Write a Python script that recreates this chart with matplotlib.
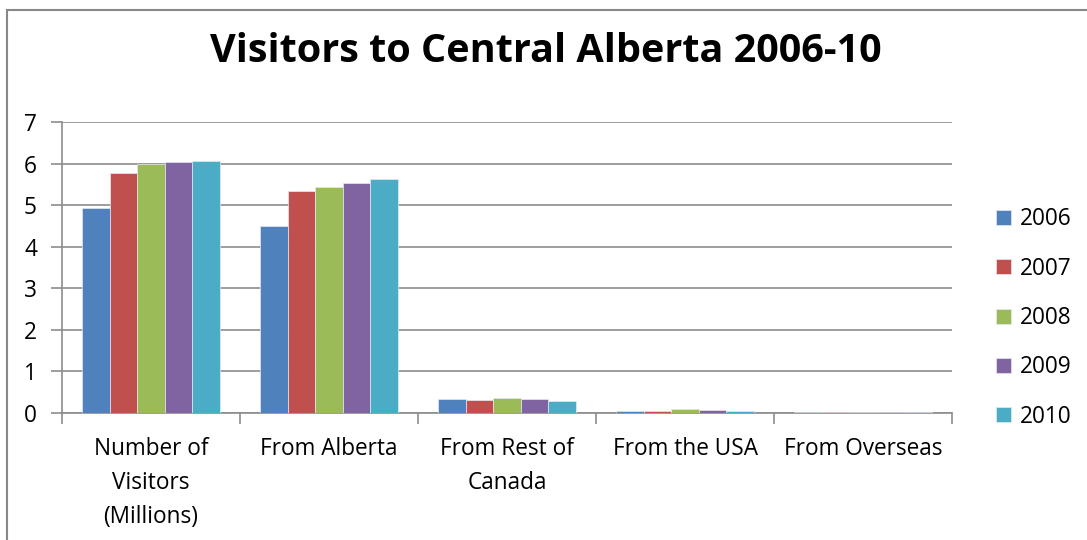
import matplotlib.pyplot as plt
import numpy as np
from matplotlib.patches import Rectangle

plt.rcParams['font.family'] = ['Open Sans', 'DejaVu Sans']

# Visitors to Central Alberta, millions
categories = ["Number of\nVisitors\n(Millions)", "From Alberta", "From Rest of\nCanada",
              "From the USA", "From Overseas"]
years = ["2006", "2007", "2008", "2009", "2010"]
v2006 = [4.94, 4.50, 0.34, 0.05, 0.03]
v2007 = [5.78, 5.33, 0.31, 0.06, 0.03]
v2008 = [5.99, 5.43, 0.36, 0.10, 0.03]
v2009 = [6.04, 5.54, 0.33, 0.07, 0.03]
v2010 = [6.06, 5.64, 0.28, 0.06, 0.02]
colors = ["#4F81BD", "#C0504D", "#9BBB59", "#8064A2", "#4BACC6"]

series = [v2006, v2007, v2008, v2009, v2010]

W, H = 1087, 540
fig = plt.figure(figsize=(W / 100, H / 100), dpi=100)
ax = fig.add_axes([62 / W, 1 - 413 / H, 890 / W, 291 / H])

# outer chart frame
fig.patches.append(Rectangle((7 / W, -0.1), 1.2, 1 - 10 / H + 0.1, transform=fig.transFigure,
                             fill=False, edgecolor="#888888", linewidth=1.5))

x = np.arange(len(categories))
bw = 0.154
for i, vals in enumerate(series):
    ax.bar(x + (i - 2) * bw, vals, width=bw, color=colors[i], edgecolor="#e8e8f0",
           linewidth=0.5, label=years[i], zorder=3)

ax.set_xlim(-0.5, len(categories) - 0.5)
ax.set_ylim(0, 7)
ax.set_yticks(range(8))
ax.grid(axis="y", color="#8c8c8c", linewidth=1.2, zorder=0)
for s in ["top", "right"]:
    ax.spines[s].set_visible(False)
for s in ["left", "bottom"]:
    ax.spines[s].set_color("#8c8c8c")
    ax.spines[s].set_linewidth(1.2)

ax.set_xticks(x)
ax.set_xticklabels(categories, fontsize=16.3, linespacing=1.55)
ax.set_xticks(np.arange(-0.5, len(categories)), minor=True)
ax.tick_params(axis="x", which="major", length=0, pad=17.5)
ax.tick_params(axis="x", which="minor", length=8, width=1.2, color="#8c8c8c")
ax.tick_params(axis="y", length=8, width=1.2, color="#8c8c8c", labelsize=16.3, pad=10)

fig.text(546 / W, 1 - 52 / H, "Visitors to Central Alberta 2006-10", ha="center", va="center",
         fontsize=28.5, fontweight="bold")

leg = ax.legend(loc="center left", bbox_to_anchor=(1.027, 0.326), frameon=False, fontsize=16.3,
                handlelength=0.65, handleheight=0.65, handletextpad=0.4, labelspacing=1.12)

fig.savefig("out.png", dpi=100)
